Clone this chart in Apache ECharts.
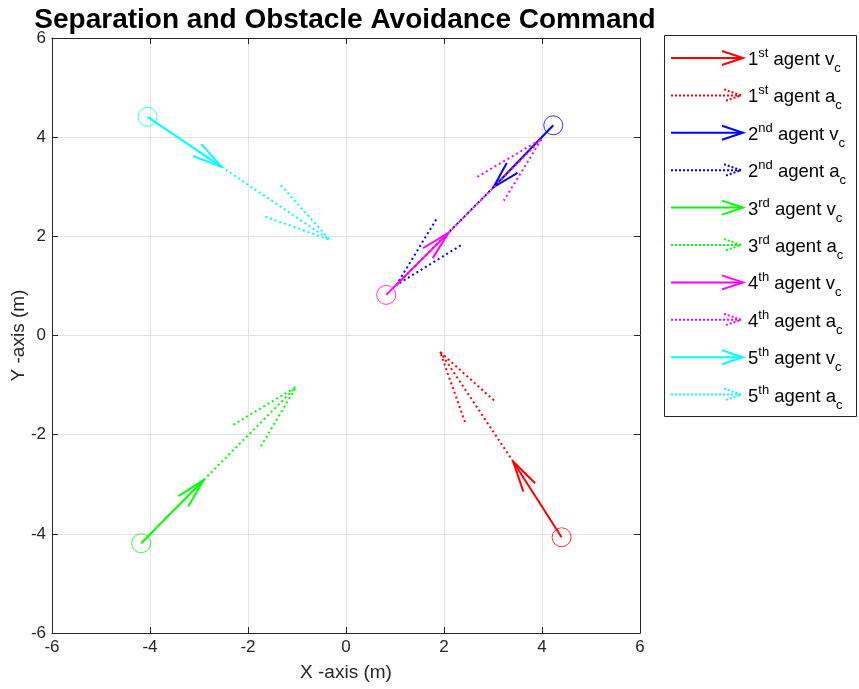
<!DOCTYPE html>
<html>
<head>
<meta charset="utf-8">
<script src="https://cdn.jsdelivr.net/npm/echarts@6/dist/echarts.min.js"></script>
<style>
  html, body { margin: 0; padding: 0; background: #fff; }
  #main { width: 859px; height: 689px; }
</style>
</head>
<body>
<div id="main"></div>
<script>
// agent data (metres)
var ordinals = ['1', '2', '3', '4', '5'];
var ordSuffix = ['st', 'nd', 'rd', 'th', 'th'];
var agentPos = [[4.40, -4.07], [4.23, 4.24], [-4.18, -4.19], [0.82, 0.82], [-4.05, 4.41]];
var vcTip = [[3.41, -2.54], [3.01, 2.99], [-2.90, -2.91], [2.09, 2.07], [-2.54, 3.40]];
var vcBarbA = [[3.86, -2.98], [3.28, 3.48], [-3.42, -3.24], [1.57, 1.76], [-2.95, 3.86]];
var vcBarbB = [[3.62, -3.15], [3.50, 3.28], [-3.22, -3.45], [1.77, 1.56], [-3.12, 3.62]];
var acTip = [[1.92, -0.33], [1.03, 1.02], [-1.02, -1.04], [3.99, 3.96], [-0.33, 1.93]];
var acBarbA = [[3.02, -1.31], [1.84, 2.34], [-2.30, -1.80], [2.68, 3.20], [-1.33, 3.03]];
var acBarbB = [[2.43, -1.75], [2.38, 1.84], [-1.77, -2.29], [3.22, 2.72], [-1.71, 2.42]];
var xTicks = [-6, -4, -2, 0, 2, 4, 6];
var yTicks = [-6, -4, -2, 0, 2, 4, 6];

var colors = ['#ff0000', '#0000ff', '#00ff00', '#ff00ff', '#00ffff'];
var FONT = '"Liberation Sans", Arial, Helvetica, sans-serif';
var TXT = '#262626';

var chart = echarts.init(document.getElementById('main'));

var series = [];
function line(data, color, dotted) {
    series.push({
        type: 'line',
        data: data,
        showSymbol: false,
        symbol: 'none',
        silent: true,
        lineStyle: { color: color, width: 2, type: dotted ? [2, 3] : 'solid' },
        z: 3
    });
}
for (var i = 0; i < agentPos.length; i++) {
    var c = colors[i];
    line([agentPos[i], vcTip[i]], c, false);
    line([vcBarbA[i], vcTip[i], vcBarbB[i]], c, false);
    line([vcTip[i], acTip[i]], c, true);
    line([acBarbA[i], acTip[i], acBarbB[i]], c, true);
    series.push({
        type: 'scatter',
        data: [agentPos[i]],
        symbol: 'circle',
        symbolSize: 19,
        silent: true,
        itemStyle: { color: 'rgba(0,0,0,0)', borderColor: c, borderWidth: 1 },
        z: 4
    });
}

// legend drawn by hand (MATLAB style)
var legend = [];
var lx = 671, rowY0 = 58, rowH = 37.4;
legend.push({
    type: 'rect',
    shape: { x: 664.5, y: 35.5, width: 192, height: 381 },
    style: { fill: '#fff', stroke: '#262626', lineWidth: 1 },
    z: 10
});
for (var k = 0; k < 10; k++) {
    var a = Math.floor(k / 2);
    var isAc = k % 2 === 1;
    var y = rowY0 + k * rowH;
    var col = colors[a];
    if (!isAc) {
        legend.push({ type: 'polyline', shape: { points: [[lx, y], [743, y]] },
            style: { stroke: col, lineWidth: 2 }, z: 11 });
        legend.push({ type: 'polyline', shape: { points: [[722, y - 7], [743, y], [722, y + 7]] },
            style: { stroke: col, lineWidth: 2, fill: null }, z: 11 });
    } else {
        legend.push({ type: 'polyline', shape: { points: [[lx, y], [741, y]] },
            style: { stroke: col, lineWidth: 2, lineDash: [2, 2] }, z: 11 });
        legend.push({ type: 'polyline', shape: { points: [[724, y - 6], [741, y], [724, y + 6]] },
            style: { stroke: col, lineWidth: 2, lineDash: [2, 2], fill: null }, z: 11 });
    }
    legend.push({
        type: 'text',
        x: 748, y: y + 2,
        style: {
            text: '{n|' + ordinals[a] + '}{sup|' + ordSuffix[a] + '}{n| agent ' + (isAc ? 'a' : 'v') + '}{sub|c}',
            verticalAlign: 'middle',
            rich: {
                n: { fontSize: 18.5, fontFamily: FONT, fill: '#000', lineHeight: 30, verticalAlign: 'middle' },
                sup: { fontSize: 13, fontFamily: FONT, fill: '#000', lineHeight: 30, verticalAlign: 'top', padding: [2, 0, 0, 0] },
                sub: { fontSize: 13, fontFamily: FONT, fill: '#000', lineHeight: 30, verticalAlign: 'bottom' }
            }
        },
        z: 11
    });
}
legend.push({
    type: 'text',
    x: 345, y: 20,
    style: {
        text: 'Separation and Obstacle Avoidance Command',
        fontSize: 28, fontWeight: 'bold', fontFamily: FONT, fill: '#000',
        align: 'center', verticalAlign: 'middle'
    }
});

function axisCommon(ticks) {
    return {
        type: 'value',
        min: ticks[0],
        max: ticks[ticks.length - 1],
        interval: 2,
        axisLine: { show: true, onZero: false, lineStyle: { color: TXT, width: 1 } },
        axisTick: { show: true, inside: true, length: 6, lineStyle: { color: TXT } },
        splitLine: { show: true, lineStyle: { color: '#e3e3e3', width: 1 } },
        axisLabel: { color: TXT, fontSize: 17, fontFamily: FONT },
        nameLocation: 'middle',
        nameMoveOverlap: false,
        nameTextStyle: { color: TXT, fontSize: 19, fontFamily: FONT }
    };
}
var xA = axisCommon(xTicks);
xA.name = 'X -axis (m)';
xA.nameGap = 30;
xA.axisLabel.margin = 6;
var yA = axisCommon(yTicks);
yA.name = 'Y -axis (m)';
yA.nameGap = 24;
yA.axisLabel.margin = 6;

var xTop = axisCommon(xTicks);
xTop.position = 'top';
xTop.axisLabel = { show: false };
xTop.splitLine = { show: false };
var yRight = axisCommon(yTicks);
yRight.position = 'right';
yRight.axisLabel = { show: false };
yRight.splitLine = { show: false };

var option = {
    animation: false,
    backgroundColor: '#fff',
    grid: { left: 52, right: 219, top: 38, bottom: 56, containLabel: false, outerBoundsMode: 'none' },
    xAxis: [xA, xTop],
    yAxis: [yA, yRight],
    series: series,
    graphic: legend
};
chart.setOption(option);
</script>
</body>
</html>
